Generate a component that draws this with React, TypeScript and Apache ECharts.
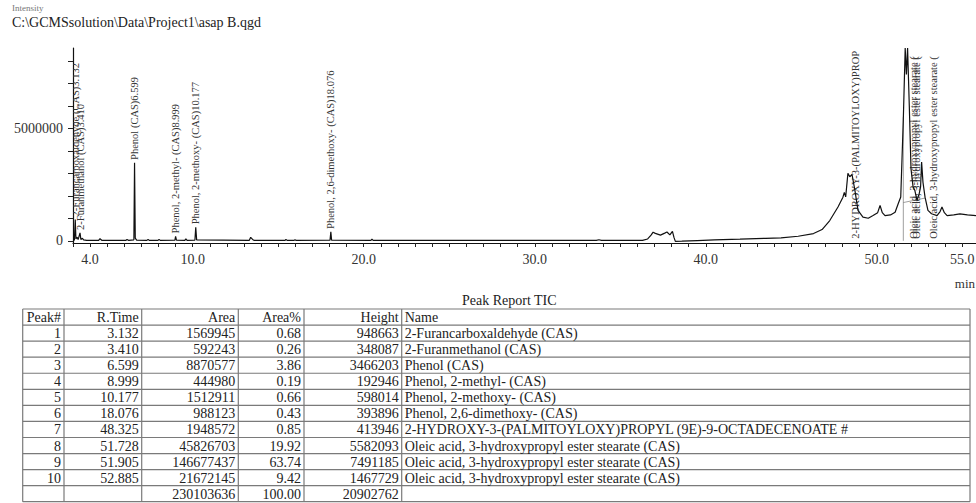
import React, { useEffect, useRef } from "react";
import * as echarts from "echarts";

// ---------- texts ----------
const filePath = "C:\\GCMSsolution\\Data\\Project1\\asap B.qgd";
const yTitle = "Intensity";
const xUnit = "min";
const tableTitle = "Peak Report TIC";
const tableHeaders = ["Peak#", "R.Time", "Area", "Area%", "Height", "Name"];

// ---------- axis ticks ----------
const xTickValues = [3, 4, 5, 6, 7, 8, 9, 10, 11, 12, 13, 14, 15, 16, 17, 18, 19, 20, 21, 22, 23, 24, 25, 26, 27, 28, 29, 30, 31, 32, 33, 34, 35, 36, 37, 38, 39, 40, 41, 42, 43, 44, 45, 46, 47, 48, 49, 50, 51, 52, 53, 54, 55];
const xTickLabels = [4, 10, 20, 30, 40, 50, 55];
const yTickValues = [0, 1000000, 2000000, 3000000, 4000000, 5000000, 6000000, 7000000, 8000000];
const yTickLabels = [0, 5000000];

// ---------- peak table ----------
const peakNo = [1, 2, 3, 4, 5, 6, 7, 8, 9, 10];
const retTimes = [3.132, 3.41, 6.599, 8.999, 10.177, 18.076, 48.325, 51.728, 51.905, 52.885];
const areas = [1569945, 592243, 8870577, 444980, 1512911, 988123, 1948572, 45826703, 146677437, 21672145];
const areaPct = ["0.68", "0.26", "3.86", "0.19", "0.66", "0.43", "0.85", "19.92", "63.74", "9.42"];
const heights = [948663, 348087, 3466203, 192946, 598014, 393896, 413946, 5582093, 7491185, 1467729];
const names = [
  "2-Furancarboxaldehyde (CAS)",
  "2-Furanmethanol (CAS)",
  "Phenol (CAS)",
  "Phenol, 2-methyl- (CAS)",
  "Phenol, 2-methoxy- (CAS)",
  "Phenol, 2,6-dimethoxy- (CAS)",
  "2-HYDROXY-3-(PALMITOYLOXY)PROPYL (9E)-9-OCTADECENOATE #",
  "Oleic acid, 3-hydroxypropyl ester stearate (CAS)",
  "Oleic acid, 3-hydroxypropyl ester stearate (CAS)",
  "Oleic acid, 3-hydroxypropyl ester stearate (CAS)",
];
const totalRow = ["", "", "230103636", "100.00", "20902762", ""];
// peak labels drawn from the apex (true) or from the baseline (false)
const labelAtApex = [true, true, true, true, true, true, false, false, false, false];

// ---------- chromatogram ----------
const traceTime = [
  3.0, 3.08, 3.132, 3.17, 3.24, 3.3, 3.41, 3.46, 3.55, 3.62, 3.8,
  4.5, 4.58, 4.68, 6.08, 6.16, 6.26, 6.56, 6.599, 6.64, 6.72,
  7.32, 7.39, 7.46, 7.97, 8.03, 8.1, 8.96, 8.999, 9.05,
  9.54, 9.6, 9.67, 10.13, 10.177, 10.23,
  13.3, 13.39, 13.5, 13.6, 15.4, 15.45, 15.52, 15.93, 15.98, 16.05,
  18.03, 18.076, 18.12, 20.42, 20.48, 20.55, 25.0, 30.0,
  33.6, 33.75, 33.9, 36.3, 36.6, 36.8, 36.92, 37.05, 37.35, 37.6, 37.73, 37.9, 38.05, 38.14, 38.22, 38.6,
  39.5, 40.5, 42.0, 43.5, 44.4, 45.4, 46.3, 46.8, 47.25, 47.73, 48.02, 48.1, 48.18, 48.31, 48.42, 48.55,
  48.72, 48.9, 49.19, 49.5, 49.78, 50.05, 50.19, 50.32, 50.48, 50.8, 51.07, 51.25, 51.4, 51.55, 51.66,
  51.73, 51.8, 51.9, 52.0, 52.12, 52.22, 52.35, 52.48, 52.56, 52.62, 52.7, 52.82, 52.99, 53.2, 53.52,
  53.7, 53.81, 53.95, 54.11, 54.5, 54.86, 55.3, 55.8,
];
const traceIntensity = [
  20000, 30000, 950000, 80000, 160000, 50000, 350000, 60000, 110000, 40000, 20000,
  15000, 90000, 20000, 15000, 60000, 15000, 40000, 3470000, 120000, 30000,
  15000, 60000, 15000, 15000, 60000, 15000, 30000, 195000, 30000,
  15000, 90000, 15000, 30000, 600000, 40000,
  15000, 150000, 60000, 15000, 15000, 60000, 15000, 15000, 50000, 15000,
  30000, 395000, 30000, 15000, 70000, 15000, 15000, 15000,
  15000, 45000, 20000, 20000, 80000, 250000, 380000, 330000, 250000, 340000, 390000, 260000, 420000, 150000, -30000, -20000,
  10000, 40000, 70000, 110000, 130000, 200000, 320000, 500000, 900000, 1500000, 1940000, 2150000, 1950000, 3000000, 2850000, 2950000,
  2240000, 1350000, 1050000, 1000000, 1120000, 1250000, 1570000, 1250000, 1120000, 1150000, 1270000, 1650000, 1950000, 5400000, 8580000,
  7400000, 8580000, 6000000, 3200000, 2400000, 2250000, 1800000, 2100000, 2400000, 3500000, 2600000, 1940000, 1350000, 1200000, 1120000,
  1300000, 1500000, 1250000, 1120000, 1150000, 1200000, 1150000, 1120000,
];

// thin integration marks drawn by the software
const dropLineTime = [51.55, 51.55];
const dropLineIntensity = [0, 5500000];
const baseLineTime = [51.55, 52.82];
const baseLineIntensity = [1700000, 1900000];

const SERIF = "'Liberation Serif', 'Times New Roman', Times, serif";
const GRID_TOP = 48;

export default function App() {
  const ref = useRef<HTMLDivElement>(null);

  useEffect(() => {
    if (!ref.current) return;
    const chart = echarts.init(ref.current, undefined, { renderer: "svg" });

    // ----- table graphics -----
    const colX = [22.7, 64, 141.7, 238.3, 304, 401.7, 970];
    const rowTop = 309;
    const rowH = 16.06;
    const rows: string[][] = [tableHeaders];
    peakNo.forEach((p, i) => {
      rows.push([
        String(p),
        retTimes[i].toFixed(3),
        String(areas[i]),
        areaPct[i],
        String(heights[i]),
        names[i],
      ]);
    });
    rows.push(totalRow);
    const nRows = rows.length;
    const gfx: any[] = [];
    for (let r = 0; r <= nRows; r++) {
      const y = rowTop + r * rowH;
      gfx.push({
        type: "line",
        silent: true,
        shape: { x1: colX[0], y1: y, x2: colX[colX.length - 1], y2: y },
        style: { stroke: "#7a7a7a", lineWidth: 1.2 },
      });
    }
    colX.forEach((x) => {
      gfx.push({
        type: "line",
        silent: true,
        shape: { x1: x, y1: rowTop, x2: x, y2: rowTop + nRows * rowH },
        style: { stroke: "#7a7a7a", lineWidth: 1.2 },
      });
    });
    rows.forEach((cells, r) => {
      const cy = rowTop + r * rowH + rowH / 2 + 0.5;
      cells.forEach((txt, c) => {
        if (!txt) return;
        const isName = c === 5;
        gfx.push({
          type: "text",
          silent: true,
          x: isName ? colX[c] + 3 : colX[c + 1] - 3,
          y: cy,
          style: {
            text: txt,
            fontSize: 14,
            fontFamily: SERIF,
            fill: "#222",
            align: isName ? "left" : "right",
            verticalAlign: "middle",
          },
        });
      });
    });
    gfx.push({
      type: "text",
      silent: true,
      x: 462,
      y: 300,
      style: { text: tableTitle, fontSize: 14, fontFamily: SERIF, fill: "#222", align: "left", verticalAlign: "middle" },
    });
    gfx.push({
      type: "text",
      silent: true,
      x: 12,
      y: 22,
      style: { text: filePath, fontSize: 14, fontFamily: SERIF, fill: "#222", align: "left", verticalAlign: "middle" },
    });
    gfx.push({
      type: "text",
      silent: true,
      x: 12,
      y: 8,
      style: { text: yTitle, fontSize: 9, fontFamily: SERIF, fill: "#777", align: "left", verticalAlign: "middle" },
    });
    gfx.push({
      type: "text",
      silent: true,
      x: 975,
      y: 283,
      style: { text: xUnit, fontSize: 13, fontFamily: SERIF, fill: "#333", align: "right", verticalAlign: "middle" },
    });

    const labelData = retTimes.map((t, i) => [t, labelAtApex[i] ? heights[i] : 0, i]);

    chart.setOption({
      animation: false,
      backgroundColor: "#ffffff",
      grid: { left: 73, right: 0, top: GRID_TOP, bottom: 260, containLabel: false, outerBoundsMode: "none" },
      xAxis: {
        type: "value",
        min: 3,
        max: 55.8,
        axisLine: { show: true, onZero: false, lineStyle: { color: "#111", width: 1.2 } },
        axisTick: { show: true, customValues: xTickValues, length: 4, lineStyle: { color: "#222" } },
        axisLabel: {
          customValues: xTickLabels,
          formatter: (v: number) => v.toFixed(1),
          fontSize: 14,
          fontFamily: SERIF,
          color: "#333",
          margin: 9,
        },
        splitLine: { show: false },
      },
      yAxis: {
        type: "value",
        min: -100000,
        max: 8580000,
        axisLine: { show: true, onZero: false, lineStyle: { color: "#111", width: 1.2 } },
        axisTick: { show: true, customValues: yTickValues, length: 5, lineStyle: { color: "#222" } },
        axisLabel: {
          customValues: yTickLabels,
          formatter: (v: number) => String(v),
          fontSize: 14,
          fontFamily: SERIF,
          color: "#333",
          margin: 10,
        },
        splitLine: { show: false },
      },
      series: [
        {
          type: "line",
          data: dropLineTime.map((t, i) => [t, dropLineIntensity[i]]),
          showSymbol: false,
          symbol: "none",
          silent: true,
          lineStyle: { color: "#777", width: 0.7 },
        },
        {
          type: "line",
          data: baseLineTime.map((t, i) => [t, baseLineIntensity[i]]),
          showSymbol: false,
          symbol: "none",
          silent: true,
          lineStyle: { color: "#777", width: 0.7 },
        },
        {
          type: "line",
          data: traceTime.map((t, i) => [t, traceIntensity[i]]),
          showSymbol: false,
          symbol: "none",
          clip: true,
          silent: true,
          lineStyle: { color: "#111", width: 1.2 },
        },
        {
          type: "custom",
          clip: true,
          silent: true,
          data: labelData,
          renderItem: (params: any, api: any) => {
            const i = api.value(2);
            const pt = api.coord([api.value(0), api.value(1)]);
            const apex = labelAtApex[i];
            const y0 = pt[1] - (apex ? 3 : 2);
            return {
              type: "text",
              x: pt[0] + (apex ? 0 : 2),
              y: y0,
              rotation: Math.PI / 2,
              style: {
                text: names[i] + retTimes[i].toFixed(3),
                fontSize: 10.5,
                fontFamily: SERIF,
                fill: "#333",
                align: "left",
                verticalAlign: apex ? "middle" : "top",
                width: Math.max(10, y0 - GRID_TOP - 1),
                overflow: "truncate",
                ellipsis: "",
              },
            };
          },
        },
      ],
      graphic: { elements: gfx },
    });

    return () => chart.dispose();
  }, []);

  return (
    <div
      ref={ref}
      style={{ position: "fixed", left: 0, top: 0, width: 976, height: 503, background: "#fff" }}
    />
  );
}
